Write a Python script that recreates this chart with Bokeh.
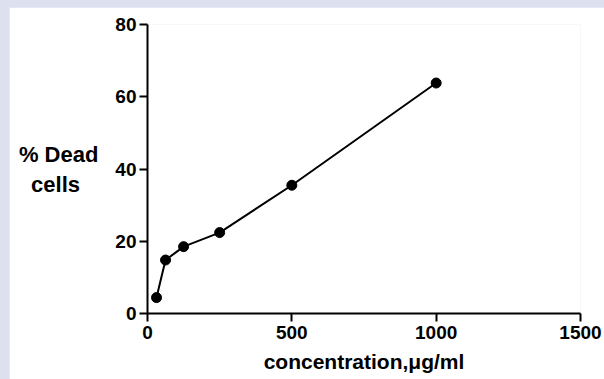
from bokeh.plotting import figure
from bokeh.models import FixedTicker, Range1d
from bokeh.layouts import column
from bokeh.embed import file_html
from bokeh.resources import INLINE

conc = [31.25, 62.5, 125, 250, 500, 1000]
dead = [4.4, 14.8, 18.5, 22.4, 35.5, 63.8]
x_ticks = [0, 500, 1000, 1500]
y_ticks = [0, 20, 40, 60, 80]
x_title = "concentration,\u03bcg/ml"
y_title_lines = ["% Dead", "cells"]

FONT = "Liberation Sans"

p = figure(width=595, height=372, output_backend="svg", toolbar_location=None,
           x_range=Range1d(0, 1500), y_range=Range1d(0, 80),
           min_border_left=138, min_border_right=24, min_border_top=17, min_border_bottom=66,
           margin=(7, 0, 0, 9))
p.background_fill_color = "white"
p.border_fill_color = "white"
p.outline_line_color = None
p.grid.visible = False

p.line(conc, dead, line_color="black", line_width=2)
p.scatter(conc, dead, size=10, fill_color="black", line_color="black")

for ax in (p.xaxis[0], p.yaxis[0]):
    ax.axis_line_width = 2
    ax.axis_line_color = "black"
    ax.major_tick_line_width = 2
    ax.major_tick_line_color = "black"
    ax.major_tick_out = 8
    ax.major_tick_in = 0
    ax.minor_tick_line_color = None
    ax.major_label_text_font = FONT
    ax.major_label_text_font_style = "bold"
    ax.major_label_text_font_size = "19px"
    ax.major_label_text_color = "black"
    ax.axis_label_text_font = FONT
    ax.axis_label_text_font_style = "bold"
    ax.axis_label_text_font_size = "21px"
    ax.axis_label_text_color = "black"

p.xaxis.ticker = FixedTicker(ticks=x_ticks)
p.yaxis.ticker = FixedTicker(ticks=y_ticks)
p.xaxis.major_label_standoff = 4
p.yaxis.major_label_standoff = 3
p.xaxis.axis_label = x_title
p.xaxis.axis_label_standoff = 8

# centre the second line under the first (axis labels align lines to the right)
p.yaxis.axis_label = y_title_lines[0] + "\n" + y_title_lines[1] + "\u00a0\u00a0\u00a0"
p.yaxis.axis_label_text_font_size = "22px"
p.yaxis.axis_label_orientation = "horizontal"
p.yaxis.axis_label_standoff = 14

layout = column(p, width=604, height=379, styles={"background-color": "#dde0ef"})
open("out.html", "w").write(file_html(layout, INLINE))
